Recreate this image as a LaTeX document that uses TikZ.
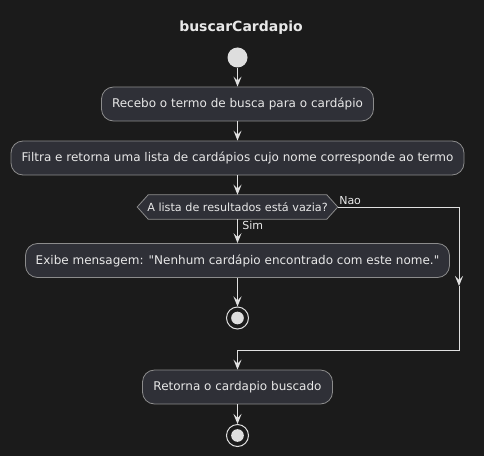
\documentclass[tikz,border=0pt]{standalone}
\usepackage{fontspec}
\setmainfont{DejaVu Sans}[Ligatures=TeXOff]
\usetikzlibrary{arrows.meta,calc}
\pgfdeclarelayer{back}
\pgfsetlayers{back,main}
\definecolor{bg}{HTML}{1B1B1B}
\definecolor{boxfill}{HTML}{2F3037}
\definecolor{boxline}{HTML}{8C8C8C}
\definecolor{txt}{HTML}{E8E8E8}
\definecolor{wire}{HTML}{E0E0E0}
\definecolor{dot}{HTML}{DEDEDE}
\begin{document}
\begin{tikzpicture}[x=0.75pt,y=-0.75pt,
  act/.style={draw=boxline,fill=boxfill,line width=0.6pt,rounded corners=9pt,
    minimum height=25.5pt,inner sep=0pt,text=txt,font=\fontsize{9}{11}\selectfont},
  decision/.style={minimum width=150pt,minimum height=18pt,inner sep=0pt,text=txt,font=\fontsize{8.4}{10}\selectfont},
  hexa/.style={draw=boxline,fill=boxfill,line width=0.6pt},
  flow/.style={draw=wire,line width=0.75pt,-{Stealth[length=7.5pt,width=6pt,inset=3pt]}},
  wireline/.style={draw=wire,line width=0.75pt},
  lbl/.style={text=txt,font=\fontsize{8.25}{10}\selectfont,inner sep=0pt}]
\begin{pgfonlayer}{back}
\fill[bg] (0,0) rectangle (484,456);
\end{pgfonlayer}
\useasboundingbox (0,0) rectangle (484,456);
\node[text=txt,font=\bfseries\fontsize{10.5}{12}\selectfont] (title) at (241,28) {buscarCardapio};
\node[circle,fill=dot,minimum size=15pt,inner sep=0pt] (start) at (237.5,57.5) {};
\node[act,minimum width=204pt] (b1) at (237.5,104) {Recebo o termo de busca para o cardápio};
\node[act,minimum width=339.75pt] (b2) at (237.5,158) {Filtra e retorna uma lista de cardápios cujo nome corresponde ao termo};
\node[decision] (dec) at (237.5,207) {A lista de resultados está vazia?};
\begin{pgfonlayer}{back}
\draw[hexa] (dec.west) -- ([xshift=8.25pt]dec.north west) -- ([xshift=-8.25pt]dec.north east) -- (dec.east)
  -- ([xshift=-8.25pt]dec.south east) -- ([xshift=8.25pt]dec.south west) -- cycle;
\end{pgfonlayer}
\node[act,minimum width=318pt] (b3) at (237.5,260.5) {Exibe mensagem: "Nenhum cardápio encontrado com este nome."};
\node[circle,draw=dot,line width=0.75pt,minimum size=16.5pt,inner sep=0pt] (end1) at (237.5,318) {};
\node[circle,fill=dot,minimum size=9.5pt,inner sep=0pt] (end1dot) at (end1) {};
\node[act,minimum width=142.5pt] (b4) at (237.5,387) {Retorna o cardapio buscado};
\node[circle,draw=dot,line width=0.75pt,minimum size=16.5pt,inner sep=0pt] (end2) at (237.5,435.5) {};
\node[circle,fill=dot,minimum size=9.5pt,inner sep=0pt] (end2dot) at (end2) {};
\coordinate (nr) at (459,207);
\coordinate (nm) at (459,286);
\coordinate (nb) at (459,350);
\coordinate (mj) at (237.5,350);
\draw[flow] (start) -- (b1);
\draw[flow] (b1) -- (b2);
\draw[flow] (b2) -- (dec.north);
\draw[flow] (dec.south) -- (b3);
\draw[flow] (b3) -- (end1);
\draw[flow] (dec.east) -- (nr) -- (nm);
\draw[wireline] (nm) -- (nb) -- (mj);
\draw[flow] (mj) -- (b4);
\draw[flow] (b4) -- (end2);
\node[lbl,anchor=west] (nao) at (339,201) {Nao};
\node[lbl,anchor=west] (sim) at (242,225.5) {Sim};
\end{tikzpicture}
\end{document}
